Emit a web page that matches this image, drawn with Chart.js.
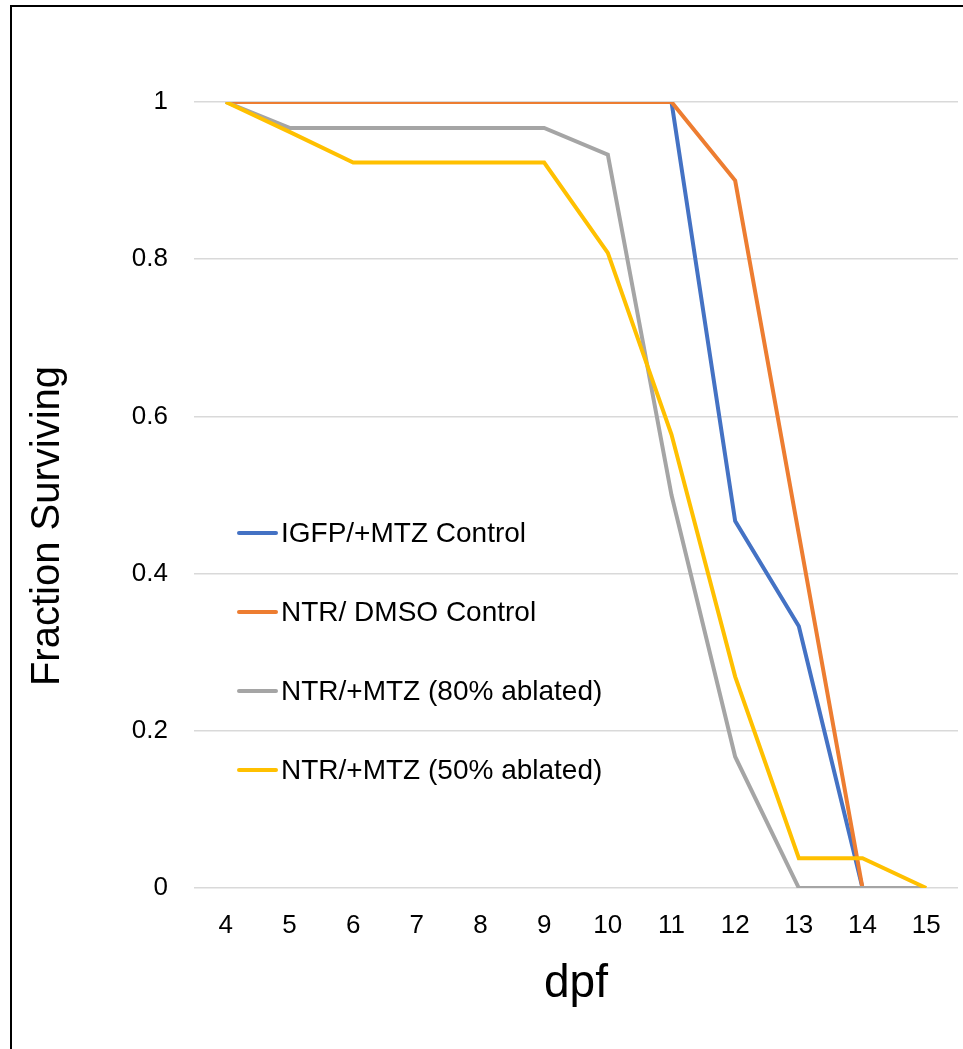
<!DOCTYPE html>
<html>
<head>
<meta charset="utf-8">
<script src="https://cdn.jsdelivr.net/npm/chart.js@4/dist/chart.umd.min.js"></script>
<style>
  html, body { margin: 0; padding: 0; background: #fff; overflow: hidden; }
  #wrap { position: relative; width: 963px; height: 1049px; }
  #frame {
    position: absolute; left: 10px; top: 5px; width: 2000px; height: 2000px;
    border-left: 2px solid #000; border-top: 2px solid #000; pointer-events: none;
  }
</style>
</head>
<body>
<div id="wrap">
  <canvas id="line-chart"></canvas>
  <div id="frame"></div>
</div>
<script>
// days post fertilisation
const days = ['4', '5', '6', '7', '8', '9', '10', '11', '12', '13', '14', '15'];

// fraction surviving per group
const igfpMtz = [1, 1, 1, 1, 1, 1, 1, 1, 0.467, 0.333, 0, null];
const ntrDmso = [1, 1, 1, 1, 1, 1, 1, 1, 0.9, 0.45, 0, null];
const ntrMtz80 = [1, 0.967, 0.967, 0.967, 0.967, 0.967, 0.933, 0.5, 0.167, 0, 0, 0];
const ntrMtz50 = [1, 0.962, 0.923, 0.923, 0.923, 0.923, 0.808, 0.577, 0.269, 0.038, 0.038, 0];

const seriesNames = [
    'IGFP/+MTZ Control',
    'NTR/ DMSO Control',
    'NTR/+MTZ (80% ablated)',
    'NTR/+MTZ (50% ablated)'
];

const yTicks = [0, 0.2, 0.4, 0.6, 0.8, 1];

const FONT = "'Liberation Sans', Arial, sans-serif";

// legend sits inside the plot, like the original
const insideLegend = {
    id: 'insideLegend',
    afterDraw(chart) {
        const ctx = chart.ctx;
        const area = chart.chartArea;
        const x0 = area.left + 45;
        const y0 = area.top + 431;
        ctx.save();
        ctx.font = '28px ' + FONT;
        ctx.textBaseline = 'middle';
        ctx.textAlign = 'left';
        chart.data.datasets.forEach(function (ds, i) {
            const y = y0 + i * 79;
            ctx.strokeStyle = ds.borderColor;
            ctx.lineWidth = 4;
            ctx.lineCap = 'round';
            ctx.beginPath();
            ctx.moveTo(x0, y);
            ctx.lineTo(x0 + 37, y);
            ctx.stroke();
            ctx.fillStyle = '#000';
            ctx.fillText(ds.label, x0 + 42, y + 1);
        });
        ctx.restore();
    }
};

// y title sits a bit below the plot middle in the original
const yTitle = {
    id: 'yTitle',
    afterDraw(chart) {
        const ctx = chart.ctx;
        const area = chart.chartArea;
        ctx.save();
        ctx.translate(48, (area.top + area.bottom) / 2 + 31);
        ctx.rotate(-Math.PI / 2);
        ctx.font = '40px ' + FONT;
        ctx.fillStyle = '#000';
        ctx.textAlign = 'center';
        ctx.textBaseline = 'middle';
        ctx.fillText('Fraction Surviving', 0, 0);
        ctx.restore();
    }
};

function makeSet(label, data, color, order) {
    return {
        label: label,
        data: data,
        borderColor: color,
        backgroundColor: color,
        borderWidth: 4,
        pointRadius: 0,
        tension: 0,
        fill: false,
        spanGaps: false,
        order: order
    };
}

const canvas = document.getElementById('line-chart');
canvas.width = 963;
canvas.height = 1049;

new Chart(canvas, {
    type: 'line',
    data: {
        labels: days,
        datasets: [
            makeSet(seriesNames[0], igfpMtz, '#4472C4', 3),
            makeSet(seriesNames[1], ntrDmso, '#ED7D31', 2),
            makeSet(seriesNames[2], ntrMtz80, '#A5A5A5', 1),
            makeSet(seriesNames[3], ntrMtz50, '#FFC000', 0)
        ]
    },
    options: {
        responsive: false,
        animation: false,
        layout: { padding: { left: 0, top: 102, right: 5, bottom: 0 } },
        plugins: {
            legend: { display: false },
            tooltip: { enabled: false }
        },
        scales: {
            x: {
                type: 'category',
                offset: true,
                grid: { display: false },
                border: { display: false },
                ticks: {
                    color: '#000',
                    padding: 14,
                    maxRotation: 0,
                    autoSkip: false,
                    font: { family: FONT, size: 26 }
                },
                title: {
                    display: true,
                    text: 'dpf',
                    color: '#000',
                    padding: { top: 0, bottom: 37 },
                    font: { family: FONT, size: 46 }
                },
                afterFit(scale) { scale.height = 1049 - 888; }
            },
            y: {
                min: 0,
                max: 1,
                grid: { color: '#d9d9d9', lineWidth: 1.5, drawTicks: false },
                border: { display: false },
                afterBuildTicks(scale) {
                    scale.ticks = yTicks.map(v => ({ value: v }));
                },
                ticks: {
                    color: '#000',
                    padding: 26,
                    font: { family: FONT, size: 26 },
                    callback: v => String(v)
                },
                afterFit(scale) { scale.width = 194; }
            }
        }
    },
    plugins: [insideLegend, yTitle]
});
</script>
</body>
</html>
